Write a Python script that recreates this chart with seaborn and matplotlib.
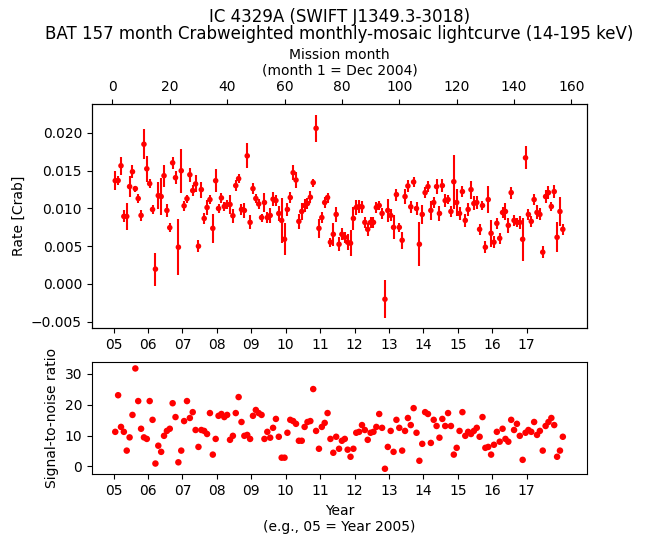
import numpy as np
import pandas as pd
import matplotlib
matplotlib.use('Agg')
import matplotlib.pyplot as plt
import seaborn as sns

# mission month 1..157 (month 1 = Dec 2004)
months = list(range(1, 158))

rate = [
    0.01368, 0.0137, 0.01566, 0.00895, 0.00895, 0.0129, 0.01487, 0.01263, 0.01132, 0.00908,
    0.01851, 0.01526, 0.01329, 0.00987, 0.00197, 0.01171, 0.01158, 0.01434, 0.00974, 0.00746,
    0.01605, 0.01408, 0.00487, 0.015, 0.01035, 0.0113, 0.01447, 0.01237, 0.01325, 0.005,
    0.0125, 0.00868, 0.01013, 0.01118, 0.00737, 0.01368, 0.01, 0.0114, 0.01026, 0.01053,
    0.01053, 0.00904, 0.01303, 0.01395, 0.00987, 0.00974, 0.01697, 0.00816, 0.01263, 0.01132,
    0.0106, 0.0088, 0.01079, 0.0088, 0.00908, 0.01123, 0.01105, 0.00934, 0.00842, 0.00592,
    0.00987, 0.01145, 0.01474, 0.01377, 0.00829, 0.0096, 0.01039, 0.01066, 0.01149, 0.01342,
    0.02062, 0.00737, 0.0088, 0.01079, 0.01145, 0.00553, 0.00658, 0.00921, 0.00526, 0.00658,
    0.00618, 0.00553, 0.0054, 0.00868, 0.01013, 0.01026, 0.0102, 0.00816, 0.00724, 0.00816,
    0.00816, 0.01013, 0.01039, 0.00934, -0.00202, 0.00974, 0.00908, 0.0075, 0.01184, 0.0075,
    0.00579, 0.01158, 0.01298, 0.01022, 0.01351, 0.01, 0.00526, 0.00921, 0.0121, 0.0129,
    0.00974, 0.01079, 0.0129, 0.00934, 0.01303, 0.01105, 0.01118, 0.0096, 0.01355, 0.01079,
    0.00934, 0.01224, 0.00842, 0.00987, 0.0125, 0.01066, 0.01079, 0.00724, 0.01039, 0.00487,
    0.01118, 0.00671, 0.00553, 0.00803, 0.00605, 0.00947, 0.0096, 0.00776, 0.0121, 0.00842,
    0.00816, 0.00816, 0.00592, 0.01671, 0.00921, 0.00829, 0.01118, 0.00947, 0.00921, 0.00421,
    0.01158, 0.0121, 0.01026, 0.01224, 0.00618, 0.0096, 0.00724,
]

snr = [
    11.2, 23.1, 12.8, 11.2, 5.1, 9.4, 16.7, 31.8, 21.2, 12.2,
    9.4, 8.9, 21.2, 15.1, 0.9, 6.7, 4.7, 9.9, 11.5, 12.2,
    20.5, 16.0, 1.3, 5.1, 14.7, 21.2, 15.7, 17.6, 11.8, 6.3,
    11.8, 11.5, 10.5, 17.3, 3.8, 8.9, 16.4, 17.0, 16.0, 16.7,
    8.6, 9.9, 17.3, 22.5, 14.4, 9.9, 10.2, 8.9, 16.4, 18.3,
    17.3, 16.7, 8.9, 11.2, 9.3, 12.5, 15.4, 9.6, 2.8, 2.8,
    10.9, 15.1, 14.7, 13.8, 8.3, 8.3, 12.8, 14.4, 14.7, 25.1,
    11.5, 5.7, 12.8, 14.1, 17.3, 8.9, 4.4, 9.6, 5.7, 8.3,
    8.9, 5.4, 3.1, 5.7, 10.9, 11.2, 13.4, 11.8, 8.6, 10.9,
    11.2, 12.8, 17.0, 12.5, -0.8, 6.3, 11.5, 4.7, 15.1, 12.5,
    5.1, 11.5, 15.7, 13.4, 18.9, 10.9, 1.8, 7.3, 17.6, 17.0,
    7.6, 15.1, 13.1, 9.3, 15.4, 13.1, 17.3, 13.1, 3.8, 6.0,
    11.5, 17.6, 9.9, 11.2, 10.5, 11.5, 12.5, 9.6, 16.0, 6.0,
    6.3, 3.8, 7.0, 11.2, 8.0, 12.2, 8.9, 8.0, 15.1, 11.8,
    13.8, 9.9, 2.1, 10.9, 11.8, 11.2, 14.4, 10.2, 11.5, 5.1,
    13.1, 14.4, 15.7, 13.4, 3.1, 5.1, 9.6,
]

year_labels = ['05', '06', '07', '08', '09', '10', '11', '12', '13', '14', '15', '16', '17']

df = pd.DataFrame({'month': months, 'rate': rate, 'snr': snr})
df['err'] = (df['rate'] / df['snr']).abs()

year_ticks = [0.4 + 12 * i for i in range(len(year_labels))]
xlim = (-7.2, 165.5)

fig = plt.figure(figsize=(6.46, 5.43), dpi=100)
ax1 = fig.add_axes([0.142, 0.3954, 0.767, 0.4131])
ax2 = fig.add_axes([0.142, 0.1265, 0.767, 0.2063])

# top panel: rate with error bars
ax1.errorbar(df['month'], df['rate'], yerr=df['err'], fmt='none', ecolor='red', elinewidth=1.5)
sns.scatterplot(data=df, x='month', y='rate', ax=ax1, color='red', s=16, edgecolor='none', zorder=3)
ax1.set_xlim(xlim)
ax1.set_ylim(-0.00587, 0.02384)
ax1.set_yticks([-0.005, 0.0, 0.005, 0.01, 0.015, 0.02])
ax1.set_yticklabels(['\u22120.005', '0.000', '0.005', '0.010', '0.015', '0.020'])
ax1.set_xticks(year_ticks)
ax1.set_xticklabels(year_labels)
ax1.set_xlabel('')
ax1.set_ylabel('Rate [Crab]')

top = ax1.twiny()
top.set_xlim(xlim)
top.set_xticks(range(0, 161, 20))
top.set_xlabel('Mission month\n(month 1 = Dec 2004)')
top.set_title('IC 4329A (SWIFT J1349.3-3018)\n'
              'BAT 157 month Crabweighted monthly-mosaic lightcurve (14-195 keV)',
              fontsize=12, linespacing=0.95)

# bottom panel: signal-to-noise
sns.scatterplot(data=df, x='month', y='snr', ax=ax2, color='red', s=22, edgecolor='none')
ax2.set_xlim(xlim)
ax2.set_ylim(-2.6, 33.8)
ax2.set_yticks([0, 10, 20, 30])
ax2.set_xticks(year_ticks)
ax2.set_xticklabels(year_labels)
ax2.set_xlabel('Year\n(e.g., 05 = Year 2005)')
ax2.set_ylabel('Signal-to-noise ratio')

fig.savefig('out.png', dpi=100)
